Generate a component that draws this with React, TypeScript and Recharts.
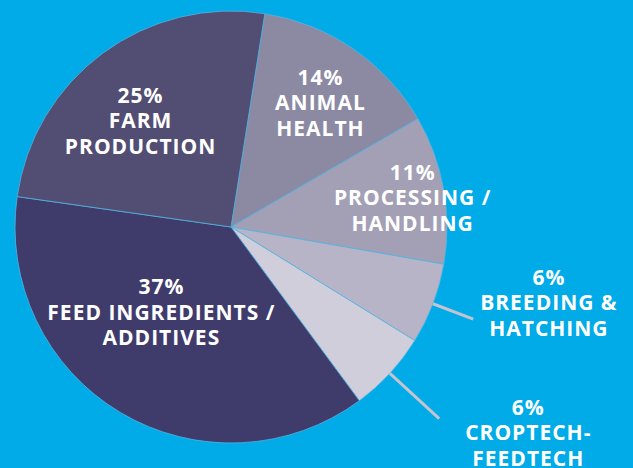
import { PieChart, Pie, Cell } from 'recharts';

// slices in clockwise order, starting at the top right
const segments = ['ANIMAL HEALTH', 'PROCESSING / HANDLING', 'BREEDING & HATCHING', 'CROPTECH-FEEDTECH', 'FEED INGREDIENTS / ADDITIVES', 'FARM PRODUCTION'];
const shares = [14, 11, 6, 6, 37, 25];
const labelLines = [
  ['14%', 'ANIMAL', 'HEALTH'],
  ['11%', 'PROCESSING /', 'HANDLING'],
  ['6%', 'BREEDING &', 'HATCHING'],
  ['6%', 'CROPTECH-', 'FEEDTECH'],
  ['37%', 'FEED INGREDIENTS /', 'ADDITIVES'],
  ['25%', 'FARM', 'PRODUCTION'],
];

const COLORS = ['#8c89a3', '#a3a0b6', '#b7b4c7', '#d0cedb', '#3f3b6b', '#524d73'];
const BG = '#00abe7';

// label placement: radius as a share of outerRadius, angle shift from the slice middle, optional leader line
const LABEL_LAYOUT = [
  { r: 0.71, shift: -1 },
  { r: 0.85, shift: -0.7 },
  { r: 1.51, shift: 7.5, line: [1.0, 1.2] },
  { r: 1.67, shift: 8, line: [1.0, 1.31] },
  { r: 0.51, shift: -8.7 },
  { r: 0.65, shift: 3.9 },
];

const data = segments.map((name, i) => ({ name, value: shares[i] }));

const RADIAN = Math.PI / 180;

const renderLabel = ({ cx, cy, midAngle, outerRadius, index }: any) => {
  const layout = LABEL_LAYOUT[index];
  const a = (midAngle + layout.shift) * RADIAN;
  const x = cx + outerRadius * layout.r * Math.cos(a);
  const y = cy - outerRadius * layout.r * Math.sin(a);
  const lineHeight = 25.5;
  return (
    <g key={`label-${index}`}>
      {layout.line && (
        <line
          x1={cx + outerRadius * layout.line[0] * Math.cos(midAngle * RADIAN)}
          y1={cy - outerRadius * layout.line[0] * Math.sin(midAngle * RADIAN)}
          x2={cx + outerRadius * layout.line[1] * Math.cos(midAngle * RADIAN)}
          y2={cy - outerRadius * layout.line[1] * Math.sin(midAngle * RADIAN)}
          stroke="#c4c3cf"
          strokeWidth={3}
        />
      )}
      {labelLines[index].map((t, k) => (
        <text
          key={k}
          x={x + 0.5}
          y={y + (k - 1) * lineHeight}
          fill="#ffffff"
          textAnchor="middle"
          dominantBaseline="central"
          fontFamily="'Open Sans', sans-serif"
          fontWeight="bold"
          fontSize={21}
          letterSpacing={1}
        >
          {t}
        </text>
      ))}
    </g>
  );
};

export default function App() {
  return (
    <div style={{ position: 'fixed', left: 0, top: 0, width: 633, height: 468, background: BG, overflow: 'hidden' }}>
      <PieChart width={633} height={468} margin={{ top: 0, right: 0, bottom: 0, left: 0 }}>
        <Pie
          data={data}
          dataKey="value"
          nameKey="name"
          cx={231}
          cy={227}
          outerRadius={216}
          startAngle={81}
          endAngle={-279}
          stroke="#55b3e2"
          strokeWidth={0.8}
          label={renderLabel}
          labelLine={false}
          isAnimationActive={false}
        >
          {data.map((entry, i) => (
            <Cell key={entry.name} fill={COLORS[i]} />
          ))}
        </Pie>
      </PieChart>
    </div>
  );
}
